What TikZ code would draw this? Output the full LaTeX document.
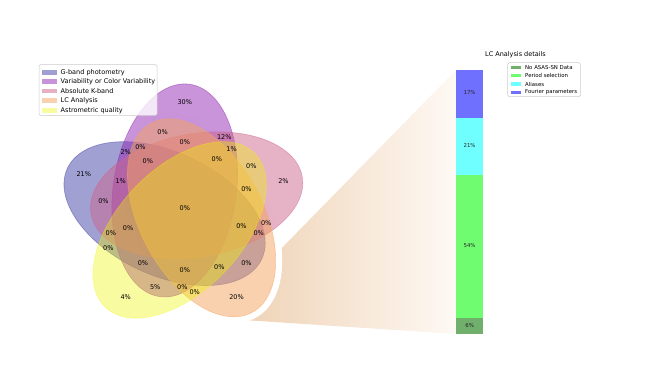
\documentclass[tikz,border=0pt]{standalone}
\usepackage{fontspec}
\setmainfont{DejaVu Sans}
\definecolor{cB}{RGB}{65,65,165}
\definecolor{cV}{RGB}{147,41,179}
\definecolor{cP}{RGB}{205,101,141}
\definecolor{cO}{RGB}{244,164,96}
\definecolor{cY}{RGB}{240,245,0}
\definecolor{barBlue}{RGB}{112,112,255}
\definecolor{barCyan}{RGB}{112,255,255}
\definecolor{barLime}{RGB}{112,252,112}
\definecolor{barGreen}{RGB}{112,175,108}
\definecolor{fanL}{RGB}{238,208,178}
\definecolor{fanR}{RGB}{254,249,244}
\tikzset{
  vset/.style={draw=#1,fill=#1,opacity=0.5,line width=0.6pt},
  vyel/.style={draw=cY,fill=cY,opacity=0.37,line width=0.6pt},
  lpatch/.style={fill=#1,opacity=0.5},
  lpyel/.style={fill=cY,opacity=0.37},
  lab/.style={font=\fontsize{6.5}{7}\selectfont,inner sep=0pt},
  leg/.style={font=\fontsize{6.5}{7}\selectfont,inner sep=0pt,anchor=west},
  sleg/.style={font=\fontsize{5.4}{6}\selectfont,inner sep=0pt,anchor=west},
  blab/.style={font=\fontsize{5.4}{6}\selectfont,inner sep=0pt,text=black!85},
  frame/.style={draw=black!20,fill=white,fill opacity=0.8,rounded corners=1.5pt,line width=0.5pt}
}
\begin{document}
\begin{tikzpicture}[x=1pt,y=1pt]
\useasboundingbox (0,0) rectangle (664,374);
% fan towards the bar
\shade[left color=fanL,right color=fanR] (456,304) -- (274,118) -- (230,84) -- (242,54.1) -- (456,40) -- cycle;
\begin{scope}[shift={(59.1,49.7)},x=246.5pt,y=246.5pt]
  % white gap round the LC Analysis set
  \filldraw[white,line width=13pt] (0.578,0.432) circle [x radius=0.435,y radius=0.25,rotate=118];
  % the five sets
  \path[vset=cB] (0.428,0.449) circle [x radius=0.435,y radius=0.25,rotate=155];
  \path[vset=cV] (0.469,0.543) circle [x radius=0.435,y radius=0.25,rotate=82];
  \path[vset=cP] (0.558,0.523) circle [x radius=0.435,y radius=0.25,rotate=10];
  \path[vset=cO] (0.578,0.432) circle [x radius=0.435,y radius=0.25,rotate=118];
  \path[vyel] (0.489,0.383) circle [x radius=0.435,y radius=0.25,rotate=46];
  % region labels
  \node[lab] (r00001) at (0.27,0.11) {4\%};
  \node[lab] (r00010) at (0.72,0.11) {20\%};
  \node[lab] (r00011) at (0.55,0.13) {0\%};
  \node[lab] (r00100) at (0.91,0.58) {2\%};
  \node[lab] (r00101) at (0.78,0.64) {0\%};
  \node[lab] (r00110) at (0.84,0.41) {0\%};
  \node[lab] (r00111) at (0.76,0.55) {0\%};
  \node[lab] (r01000) at (0.51,0.90) {30\%};
  \node[lab] (r01001) at (0.39,0.15) {5\%};
  \node[lab] (r01010) at (0.42,0.78) {0\%};
  \node[lab] (r01011) at (0.50,0.15) {0\%};
  \node[lab] (r01100) at (0.67,0.76) {12\%};
  \node[lab] (r01101) at (0.70,0.71) {1\%};
  \node[lab] (r01110) at (0.51,0.74) {0\%};
  \node[lab] (r01111) at (0.64,0.67) {0\%};
  \node[lab] (r10000) at (0.10,0.61) {21\%};
  \node[lab] (r10001) at (0.20,0.31) {0\%};
  \node[lab] (r10010) at (0.76,0.25) {0\%};
  \node[lab] (r10011) at (0.65,0.23) {0\%};
  \node[lab] (r10100) at (0.18,0.50) {0\%};
  \node[lab] (r10101) at (0.21,0.37) {0\%};
  \node[lab] (r10110) at (0.81,0.37) {0\%};
  \node[lab] (r10111) at (0.74,0.40) {0\%};
  \node[lab] (r11000) at (0.27,0.70) {2\%};
  \node[lab] (r11001) at (0.34,0.25) {0\%};
  \node[lab] (r11010) at (0.33,0.72) {0\%};
  \node[lab] (r11011) at (0.51,0.22) {0\%};
  \node[lab] (r11100) at (0.25,0.58) {1\%};
  \node[lab] (r11101) at (0.28,0.39) {0\%};
  \node[lab] (r11110) at (0.36,0.66) {0\%};
  \node[lab] (r11111) at (0.51,0.47) {0\%};
\end{scope}
% legend of the sets
\path[frame] (39,258.5) rectangle (157,309.3);
\path[lpatch=cB] (42.3,299.4) rectangle (56.7,304.0);
\path[lpatch=cV] (42.3,290.0) rectangle (56.7,294.6);
\path[lpatch=cP] (42.3,280.7) rectangle (56.7,285.3);
\path[lpatch=cO] (42.3,271.0) rectangle (56.7,275.6);
\path[lpyel] (42.3,261.4) rectangle (56.7,266.0);
\node[leg] (lg1) at (60.5,301.7) {G-band photometry};
\node[leg] (lg2) at (60.5,292.3) {Variability or Color Variability};
\node[leg] (lg3) at (60.5,283.0) {Absolute K-band};
\node[leg] (lg4) at (60.5,273.3) {LC Analysis};
\node[leg] (lg5) at (60.5,263.7) {Astrometric quality};
% stacked bar
\fill[barGreen] (456,40) rectangle (483.3,56);
\fill[barLime] (456,56) rectangle (483.3,198.5);
\fill[barCyan] (456,198.5) rectangle (483.3,256);
\fill[barBlue] (456,256) rectangle (483.3,304);
\node[blab] (b6) at (469.6,48.3) {6\%};
\node[blab] (b54) at (469.6,128) {54\%};
\node[blab] (b21) at (469.6,228) {21\%};
\node[blab] (b17) at (469.6,281.5) {17\%};
% title and legend of the bar
\node[lab] (title) at (515.5,319) {LC Analysis details};
\path[frame] (507.7,277.3) rectangle (580.5,311.3);
\fill[barGreen] (510.5,305.0) rectangle (521,308.4);
\fill[barLime] (510.5,296.6) rectangle (521,300.0);
\fill[barCyan] (510.5,288.3) rectangle (521,291.7);
\fill[barBlue] (510.5,280.0) rectangle (521,283.4);
\node[sleg] (sl1) at (525,306.7) {No ASAS-SN Data};
\node[sleg] (sl2) at (525,298.3) {Period selection};
\node[sleg] (sl3) at (525,290.0) {Aliases};
\node[sleg] (sl4) at (525,281.7) {Fourier parameters};
\end{tikzpicture}
\end{document}
